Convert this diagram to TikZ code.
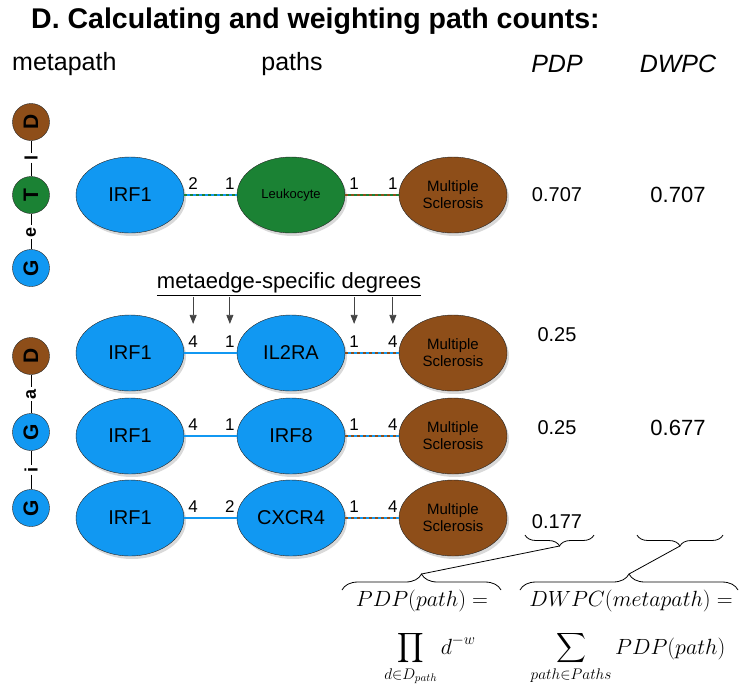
\RequirePackage{fix-cm}
\documentclass[tikz,border=0pt]{standalone}
\usepackage{exscale}
\usepackage{fontspec}
\setmainfont{Liberation Sans}
\usetikzlibrary{arrows.meta,positioning,shapes.geometric,shadows,decorations.pathreplacing,calc}
\definecolor{GeneBlue}{RGB}{17,152,242}
\definecolor{TissueGreen}{RGB}{27,130,52}
\definecolor{DiseaseBrown}{RGB}{142,78,25}
\definecolor{ArrowGrey}{RGB}{68,68,68}

\begin{document}
\begin{tikzpicture}[x=1pt,y=-1pt,
    every node/.append style={font=\fontsize{16}{18}\selectfont},
    blob/.style={ellipse,draw=black!85,line width=0.4pt,minimum width=108pt,minimum height=76pt,inner sep=0pt,
      drop shadow={opacity=0.3,shadow xshift=2pt,shadow yshift=-3pt}},
    gene/.style={blob,fill=GeneBlue,font=\fontsize{20}{22}\selectfont},
    tissue/.style={blob,fill=TissueGreen,font=\fontsize{13}{15}\selectfont},
    disease/.style={blob,fill=DiseaseBrown,align=center,font=\fontsize{15}{17}\selectfont},
    metanode/.style={circle,draw=black!85,line width=0.4pt,minimum size=37pt,inner sep=0pt,rotate=90,
      font=\bfseries\fontsize{21}{23}\selectfont},
    metaedge/.style={rotate=90,inner sep=2pt,font=\bfseries\fontsize{18}{20}\selectfont},
    deg/.style={inner sep=1pt,font=\fontsize{17}{19}\selectfont},
    score/.style={font=\fontsize{20}{22}\selectfont},
    bigscore/.style={font=\fontsize{22}{24}\selectfont},
    head/.style={anchor=base,inner sep=0pt,font=\fontsize{25}{27}\selectfont},
    link/.style={line width=1.5pt},
    mixed/.style={line width=1.5pt,dash pattern=on 3pt off 3pt},
    degarrow/.style={-{Triangle[length=9pt,width=7pt]},draw=ArrowGrey,line width=0.8pt,shorten >=11pt},
    formula/.style={inner sep=0pt,font=\fontsize{22}{26}\selectfont}]
  \useasboundingbox (0,0) rectangle (746,689);
  \tikzstyle{brace} = [decorate,line width=0.8pt]

  \node[anchor=base west,inner sep=0pt,font=\bfseries\fontsize{28.5}{30}\selectfont] (title) at (31,28)
    {D. Calculating and weighting path counts:};
  \node[head,anchor=base west] (hMeta) at (12,70) {metapath};
  \node[head] (hPaths) at (292,70) {paths};
  \node[head] (hPDP) at (557,72) {\itshape PDP};
  \node[head] (hDWPC) at (678,72) {\itshape DWPC};

  % metapaths
  \node[metanode,fill=DiseaseBrown] (mD1) at (31,122) {D};
  \node[metaedge] (ml1) at (31,158) {l};
  \node[metanode,fill=TissueGreen] (mT1) at (31,195) {T};
  \node[metaedge] (me1) at (31,232) {e};
  \node[metanode,fill=GeneBlue] (mG1) at (31,268) {G};
  \draw[line width=1pt] (mD1) -- (ml1) -- (mT1) -- (me1) -- (mG1);

  \node[metanode,fill=DiseaseBrown] (mD2) at (31,356) {D};
  \node[metaedge] (ma2) at (31,394) {a};
  \node[metanode,fill=GeneBlue] (mG2) at (31,432) {G};
  \node[metaedge] (mi2) at (31,470) {i};
  \node[metanode,fill=GeneBlue] (mH2) at (31,508) {G};
  \draw[line width=1pt] (mD2) -- (ma2) -- (mG2) -- (mi2) -- (mH2);

  % paths
  \node[gene] (irf1) at (130,195) {IRF1};
  \node[tissue] (mid1) at (291,195) {Leukocyte};
  \node[disease] (ms1) at (453,195) {Multiple\\Sclerosis};
  \draw[link,GeneBlue] (irf1) -- (mid1);
  \draw[mixed,TissueGreen] (irf1) -- (mid1);
  \draw[link,TissueGreen] (mid1) -- (ms1);
  \draw[mixed,DiseaseBrown] (mid1) -- (ms1);
  \node[deg,anchor=south west] (dA1) at ([shift={(3,-4)}]irf1.east) {2};
  \node[deg,anchor=south east] (dB1) at ([shift={(-1,-4)}]mid1.west) {1};
  \node[deg,anchor=south west] (dC1) at ([shift={(3,-4)}]mid1.east) {1};
  \node[deg,anchor=south east] (dD1) at ([shift={(0,-4)}]ms1.west) {1};

  \foreach \n/\y/\gname/\dm in {2/353/IL2RA/1,3/436/IRF8/1,4/518/CXCR4/2}{
    \node[gene] (irf\n) at (130,\y) {IRF1};
    \node[gene] (mid\n) at (291,\y) {\gname};
    \node[disease] (ms\n) at (453,\y) {Multiple\\Sclerosis};
    \draw[link,GeneBlue] (irf\n) -- (mid\n);
    \draw[link,GeneBlue] (mid\n) -- (ms\n);
    \draw[mixed,DiseaseBrown] (mid\n) -- (ms\n);
    \node[deg,anchor=south west] (dA\n) at ([shift={(3,-4)}]irf\n.east) {4};
    \node[deg,anchor=south east] (dB\n) at ([shift={(-1,-4)}]mid\n.west) {\dm};
    \node[deg,anchor=south west] (dC\n) at ([shift={(3,-4)}]mid\n.east) {1};
    \node[deg,anchor=south east] (dD\n) at ([shift={(0,-4)}]ms\n.west) {4};
  }

  \node[anchor=south,inner sep=0pt,font=\fontsize{22}{24}\selectfont] (md) at (289,297)
    {\underline{metaedge-specific degrees}};
  \foreach \d in {dA2,dB2,dC2,dD2}
    \draw[degarrow] (md.south -| \d.north) -- (\d.north);

  % scores
  \node[score] (pdp1) at (557,195) {0.707};
  \node[bigscore] (dwpc1) at (678,195) {0.707};
  \node[score] (pdp2) at (557,335) {0.25};
  \node[score] (pdp3) at (557,428) {0.25};
  \node[bigscore] (dwpc2) at (678,428) {0.677};
  \node[score] (pdp4) at (557,522) {0.177};

  % braces and formulas
  \coordinate (pdpL) at (525,535);
  \coordinate (pdpR) at (594,535);
  \coordinate (dwpcL) at (637,535);
  \coordinate (dwpcR) at (723,535);
  \coordinate (prodL) at (342,590);
  \coordinate (prodR) at (501,590);
  \coordinate (sumL) at (520,590);
  \coordinate (sumR) at (738,590);
  \draw[brace,decoration={brace,mirror,amplitude=11pt}] (pdpL) -- (pdpR);
  \draw[brace,decoration={brace,mirror,amplitude=11pt}] (dwpcL) -- (dwpcR);
  \draw[brace,decoration={brace,amplitude=16pt}] (prodL) -- (prodR);
  \draw[brace,decoration={brace,amplitude=16pt}] (sumL) -- (sumR);
  \coordinate (pdpTip) at ($(pdpL)!0.5!(pdpR)+(0,11)$);
  \coordinate (dwpcTip) at ($(dwpcL)!0.5!(dwpcR)+(0,11)$);
  \coordinate (prodTip) at ($(prodL)!0.5!(prodR)+(0,-16)$);
  \coordinate (sumTip) at ($(sumL)!0.5!(sumR)+(0,-16)$);
  \draw[line width=0.8pt] (pdpTip) -- (prodTip);
  \draw[line width=0.8pt] (dwpcTip) -- (sumTip);

  \node[formula] (pdpEq) at (422,601) {$PDP(path) =$};
  \node[formula,anchor=base] (pdpProd) at (430,654) {$\displaystyle\prod_{d\in D_{path}} d^{-w}$};
  \node[formula] (dwpcEq) at (631,601) {$DWPC(metapath) =$};
  \node[formula,anchor=base] (dwpcSum) at (628,654) {$\displaystyle\sum_{path\in Paths} PDP(path)$};
\end{tikzpicture}
\end{document}
